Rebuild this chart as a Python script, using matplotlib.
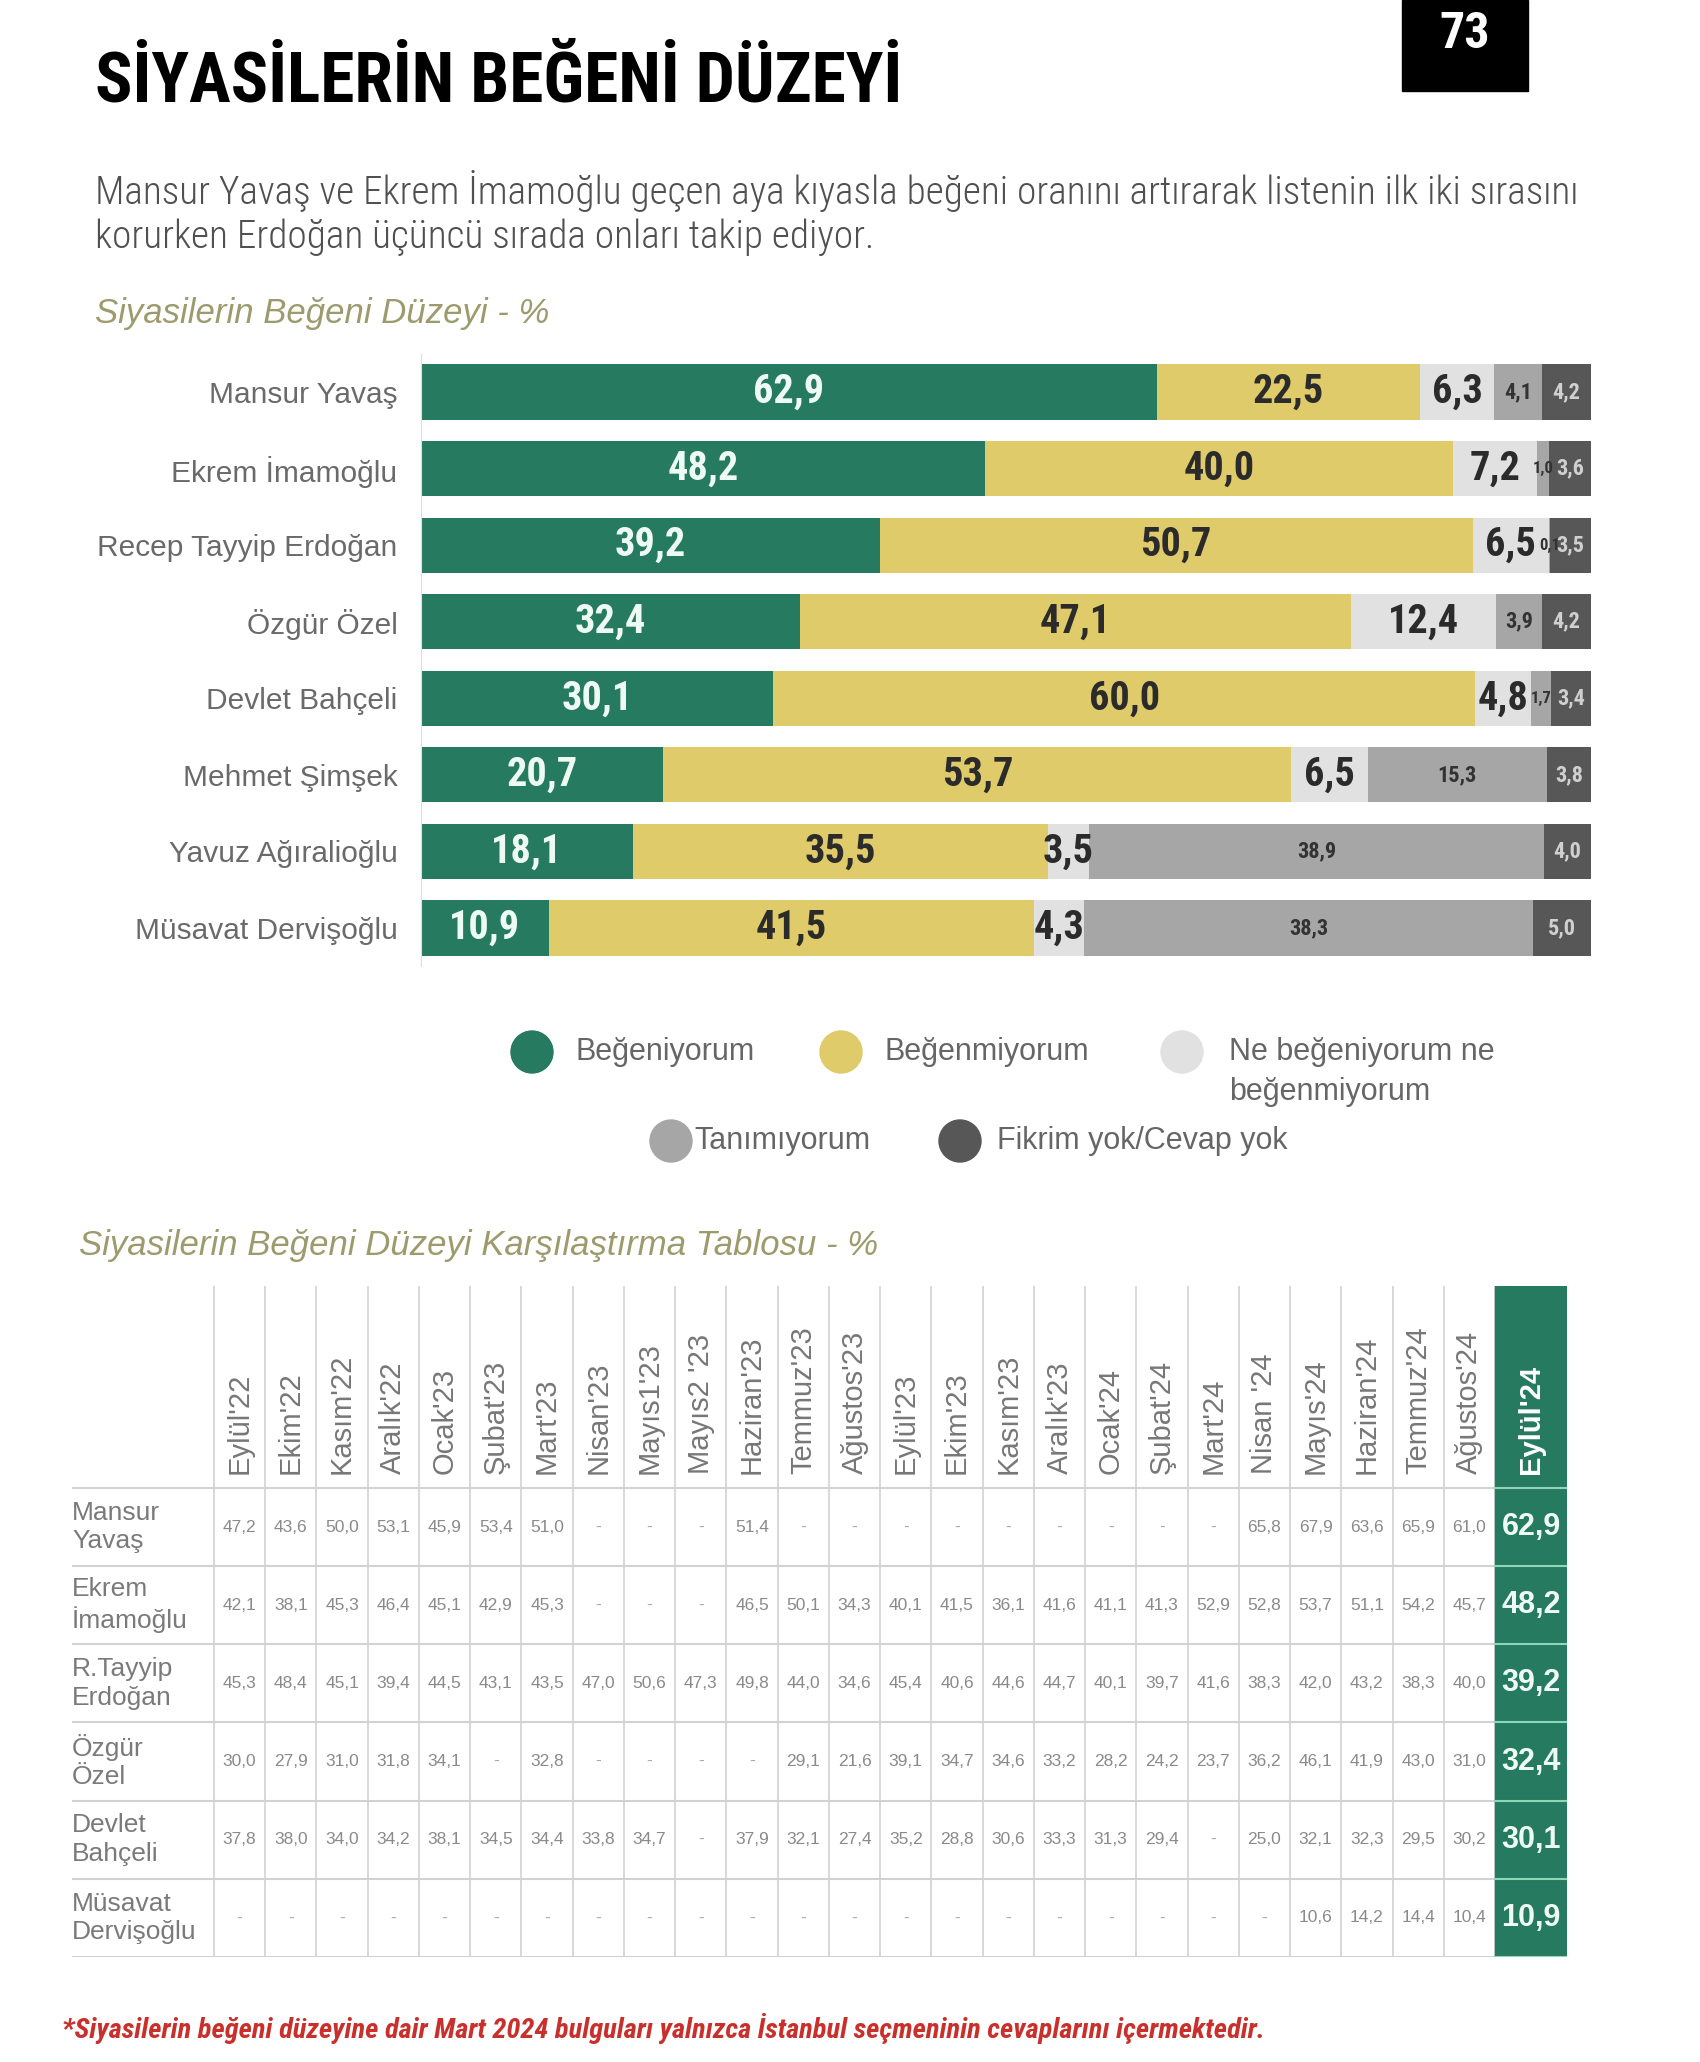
import matplotlib
matplotlib.use("Agg")
import matplotlib.pyplot as plt
from matplotlib import font_manager as fm
from matplotlib.patches import Circle, Rectangle

W, H = 1700, 2062

# ---- bar chart data
politicians = ["Mansur Yavaş", "Ekrem İmamoğlu", "Recep Tayyip Erdoğan", "Özgür Özel",
               "Devlet Bahçeli", "Mehmet Şimşek", "Yavuz Ağıralioğlu", "Müsavat Dervişoğlu"]
begeniyorum = [62.9, 48.2, 39.2, 32.4, 30.1, 20.7, 18.1, 10.9]
begenmiyorum = [22.5, 40.0, 50.7, 47.1, 60.0, 53.7, 35.5, 41.5]
ne_ne = [6.3, 7.2, 6.5, 12.4, 4.8, 6.5, 3.5, 4.3]
tanimiyorum = [4.1, 1.0, 0.1, 3.9, 1.7, 15.3, 38.9, 38.3]
fikrim_yok = [4.2, 3.6, 3.5, 4.2, 3.4, 3.8, 4.0, 5.0]
legend_labels = ["Beğeniyorum", "Beğenmiyorum", "Ne beğeniyorum ne\nbeğenmiyorum",
                 "Tanımıyorum", "Fikrim yok/Cevap yok"]

# ---- comparison table data (None = "-")
months = ["Eylül'22", "Ekim'22", "Kasım'22", "Aralık'22", "Ocak'23", "Şubat'23", "Mart'23",
          "Nisan'23", "Mayıs1'23", "Mayıs2 '23", "Haziran'23", "Temmuz'23", "Ağustos'23",
          "Eylül'23", "Ekim'23", "Kasım'23", "Aralık'23", "Ocak'24", "Şubat'24", "Mart'24",
          "Nisan '24", "Mayıs'24", "Haziran'24", "Temmuz'24", "Ağustos'24", "Eylül'24"]
table_names = ["Mansur\nYavaş", "Ekrem\nİmamoğlu", "R.Tayyip\nErdoğan", "Özgür\nÖzel",
               "Devlet\nBahçeli", "Müsavat\nDervişoğlu"]
t_yavas = [47.2, 43.6, 50.0, 53.1, 45.9, 53.4, 51.0, None, None, None, 51.4, None, None,
           None, None, None, None, None, None, None, 65.8, 67.9, 63.6, 65.9, 61.0, 62.9]
t_imamoglu = [42.1, 38.1, 45.3, 46.4, 45.1, 42.9, 45.3, None, None, None, 46.5, 50.1, 34.3,
              40.1, 41.5, 36.1, 41.6, 41.1, 41.3, 52.9, 52.8, 53.7, 51.1, 54.2, 45.7, 48.2]
t_erdogan = [45.3, 48.4, 45.1, 39.4, 44.5, 43.1, 43.5, 47.0, 50.6, 47.3, 49.8, 44.0, 34.6,
             45.4, 40.6, 44.6, 44.7, 40.1, 39.7, 41.6, 38.3, 42.0, 43.2, 38.3, 40.0, 39.2]
t_ozel = [30.0, 27.9, 31.0, 31.8, 34.1, None, 32.8, None, None, None, None, 29.1, 21.6,
          39.1, 34.7, 34.6, 33.2, 28.2, 24.2, 23.7, 36.2, 46.1, 41.9, 43.0, 31.0, 32.4]
t_bahceli = [37.8, 38.0, 34.0, 34.2, 38.1, 34.5, 34.4, 33.8, 34.7, None, 37.9, 32.1, 27.4,
             35.2, 28.8, 30.6, 33.3, 31.3, 29.4, None, 25.0, 32.1, 32.3, 29.5, 30.2, 30.1]
t_dervisoglu = [None] * 21 + [10.6, 14.2, 14.4, 10.4, 10.9]
table_rows = [t_yavas, t_imamoglu, t_erdogan, t_ozel, t_bahceli, t_dervisoglu]

GREEN, YELLOW, LIGHT, MID, DARK = "#267a5f", "#dfcb6a", "#e1e1e1", "#a6a6a6", "#575757"
OLIVE = "#9d9b6d"
SANS = "Liberation Sans"

# pick a condensed family if one is installed
_installed = {f.name for f in fm.fontManager.ttflist}


def pick(*cands):
    for c in cands:
        if c in _installed:
            return c
    return SANS


COND = pick("Roboto Condensed", "Liberation Sans Narrow", "Open Sans Condensed",
            "DejaVu Sans Condensed", "Noto Sans Condensed")


def fmt(v):
    return f"{v:.1f}".replace(".", ",")


fig = plt.figure(figsize=(W / 100, H / 100), dpi=100)
fig.patch.set_facecolor("white")
renderer = fig.canvas.get_renderer()


def fit_width(t, target):
    w = t.get_window_extent(renderer).width
    t.set_fontsize(t.get_fontsize() * target / w)
    return t.get_fontsize()


# background axes in pixel coordinates for free text / legend
bg = fig.add_axes([0, 0, 1, 1])
bg.set_xlim(0, W)
bg.set_ylim(H, 0)
bg.axis("off")

title = bg.text(95, 102, "SİYASİLERİN BEĞENİ DÜZEYİ", fontsize=49, fontweight="heavy",
                family=COND, color="black", va="baseline", ha="left")
fit_width(title, 806)
bg.add_patch(Rectangle((1402, 0), 126, 91, color="black"))
bg.text(1465, 34, "73", fontsize=36, fontweight="bold", family=COND, color="white",
        ha="center", va="center")

p1 = bg.text(95, 191, "Mansur Yavaş ve Ekrem İmamoğlu geçen aya kıyasla beğeni oranını "
             "artırarak listenin ilk iki sırasını", fontsize=24, family=COND,
             fontweight="light", color="#505050", va="center")
psize = fit_width(p1, 1486)
bg.text(95, 237, "korurken Erdoğan üçüncü sırada onları takip ediyor.", fontsize=psize,
        family=COND, fontweight="light", color="#505050", va="center")
bg.text(95, 313, "Siyasilerin Beğeni Düzeyi - %", fontsize=25, family=SANS, style="italic",
        color=OLIVE, va="center")

# legend
leg_colors = [GREEN, YELLOW, LIGHT, MID, DARK]
leg_pos = [(532, 1052), (841, 1052), (1182, 1052), (671, 1141), (960, 1141)]
leg_text_x = [576, 885, 1229, 694, 997]
for col, (cx, cy), tx_, lab in zip(leg_colors, leg_pos, leg_text_x, legend_labels):
    bg.add_patch(Circle((cx, cy), 21, color=col))
    if "\n" in lab:
        bg.text(tx_, cy - 15, lab, fontsize=22, family=SANS, color="#666666",
                va="top", linespacing=1.45)
    else:
        bg.text(tx_, cy, lab, fontsize=22, family=SANS, color="#666666", va="center")

bg.text(79, 1245, "Siyasilerin Beğeni Düzeyi Karşılaştırma Tablosu - %", fontsize=25,
        family=SANS, style="italic", color=OLIVE, va="center")
foot = bg.text(62, 2029, "*Siyasilerin beğeni düzeyine dair Mart 2024 bulguları yalnızca "
               "İstanbul seçmeninin cevaplarını içermektedir.", fontsize=18, family=COND,
               style="italic", fontweight="bold", color="#c9302c", va="center")
fit_width(foot, 1203)

# ---- stacked bar chart
ax = fig.add_axes([421 / W, 1 - 966.3 / H, (1591 - 421) / W, 612.6 / H])
series = [begeniyorum, begenmiyorum, ne_ne, tanimiyorum, fikrim_yok]
txt_colors = ["#eefaf4", "#2b2b2b", "#2b2b2b", "#333333", "#d0d0d0"]
txt_sizes = [29, 29, 29, 16, 16]
rows = range(len(politicians))
left = [0.0] * len(politicians)
for vals, col, tcol, tsz in zip(series, leg_colors, txt_colors, txt_sizes):
    ax.barh(rows, vals, left=left, height=0.72, color=col, edgecolor="none")
    for i, v in enumerate(vals):
        size = tsz if v >= 2 else 12
        ax.text(left[i] + v / 2, i, fmt(v), ha="center", va="center", fontsize=size,
                fontweight="bold", family=COND, color=tcol)
    left = [a + b for a, b in zip(left, vals)]

ax.set_xlim(0, 100)
ax.set_ylim(len(politicians) - 0.5, -0.5)
ax.set_yticks(list(rows))
ax.set_yticklabels(politicians, fontsize=21.5, family=SANS, color="#6a6a6a")
ax.tick_params(axis="y", length=0, pad=17)
ax.set_xticks([])
for s in ["top", "right", "bottom"]:
    ax.spines[s].set_visible(False)
ax.spines["left"].set_color("#dddddd")

# ---- comparison table
n_cols = len(months)
lab_w = (214 - 72) / 51.24
last_w = (1567 - 1495) / 51.24
hdr_h = (1488 - 1286) / 78.2
tx = fig.add_axes([72 / W, 1 - 1957 / H, (1567 - 72) / W, (1957 - 1286) / H])
tx.set_xlim(-lab_w, n_cols - 1 + last_w)
tx.set_ylim(len(table_rows), -hdr_h)
tx.axis("off")

tx.add_patch(Rectangle((n_cols - 1, -hdr_h), last_w, len(table_rows) + hdr_h,
                       color=GREEN, zorder=1))
for c in range(n_cols):
    tx.plot([c, c], [-hdr_h, len(table_rows)], color="#d2d2d2", lw=1.2, zorder=0)
for r in range(len(table_rows) + 1):
    tx.plot([-lab_w, n_cols - 1], [r, r], color="#d2d2d2", lw=1.5, zorder=0)
    tx.plot([n_cols - 1, n_cols - 1 + last_w], [r, r], color="#8fd6b8", lw=1.5, zorder=2)

for c, m in enumerate(months):
    last = c == n_cols - 1
    xc = c + (last_w if last else 1) / 2
    tx.text(xc, -0.18, m, rotation=90, ha="center", va="bottom", fontsize=21,
            family=SANS, fontweight="bold" if last else "normal",
            color="white" if last else "#777777", zorder=3)

for r, (name, vals) in enumerate(zip(table_names, table_rows)):
    tx.text(-lab_w, r + 0.5, name, ha="left", va="center", fontsize=19, family=SANS,
            color="#7a7a7a", linespacing=1.25)
    for c, v in enumerate(vals):
        if c == n_cols - 1:
            tx.text(c + last_w / 2, r + 0.5, fmt(v), ha="center", va="center", fontsize=22,
                    fontweight="bold", family=SANS, color="#eefaf4", zorder=3)
        else:
            tx.text(c + 0.5, r + 0.5, "-" if v is None else fmt(v), ha="center",
                    va="center", fontsize=12.5, family=SANS,
                    color="#aaaaaa" if v is None else "#8a8a8a")

fig.savefig("out.png", dpi=100, facecolor="white")
